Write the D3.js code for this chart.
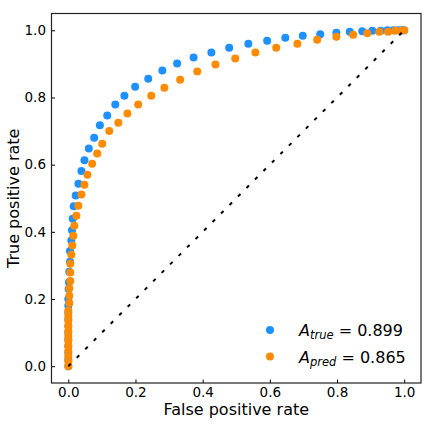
<!DOCTYPE html>
<html>
<head>
<meta charset="utf-8">
<script src="https://cdn.jsdelivr.net/npm/d3@7"></script>
<style>
  body { margin: 0; background: #fff; }
  text { font-family: "DejaVu Sans", sans-serif; fill: #000; }
  .axis path, .axis line { stroke: #000; }
</style>
</head>
<body>
<div id="chart"></div>
<script>
// ROC points
const fprTrue = [0, 0, 0, 0, 0, 0, 0, 0, 0, 0, 0, 0.001, 0.002,
  0.003, 0.005, 0.005, 0.009, 0.011, 0.013, 0.016, 0.022, 0.030, 0.039, 0.048, 0.061, 0.077,
  0.094, 0.116, 0.140, 0.167, 0.199, 0.238, 0.280, 0.324, 0.373, 0.426, 0.479, 0.536, 0.592,
  0.646, 0.698, 0.750, 0.798, 0.838, 0.875, 0.905, 0.930, 0.950, 0.968, 0.982, 0.993, 1.0];
const tprTrue = [0, 0.02, 0.04, 0.06, 0.08, 0.10, 0.12, 0.14, 0.16, 0.18, 0.20, 0.23, 0.25,
  0.281, 0.311, 0.343, 0.374, 0.405, 0.439, 0.476, 0.508, 0.543, 0.581, 0.613, 0.648, 0.680,
  0.717, 0.746, 0.779, 0.805, 0.832, 0.856, 0.880, 0.901, 0.919, 0.934, 0.948, 0.960, 0.969,
  0.978, 0.984, 0.988, 0.993, 0.996, 0.997, 0.999, 0.999, 1.0, 1.0, 1.0, 1.0, 1.0];

const fprPred = [0, 0, 0, 0, 0, 0, 0, 0, 0, 0, 0, 0,
  0.003, 0.003, 0.003, 0.006, 0.006, 0.006, 0.009, 0.012, 0.015, 0.018, 0.024, 0.030, 0.039,
  0.048, 0.057, 0.071, 0.086, 0.101, 0.122, 0.149, 0.176, 0.208, 0.247, 0.286, 0.333, 0.384,
  0.438, 0.497, 0.557, 0.619, 0.682, 0.741, 0.798, 0.848, 0.890, 0.926, 0.952, 0.973, 0.991, 1.0];
const tprPred = [0, 0.015, 0.03, 0.045, 0.06, 0.075, 0.09, 0.105, 0.12, 0.135, 0.15, 0.165,
  0.188, 0.210, 0.232, 0.254, 0.279, 0.305, 0.332, 0.359, 0.388, 0.418, 0.448, 0.478, 0.511,
  0.540, 0.570, 0.603, 0.633, 0.662, 0.700, 0.725, 0.752, 0.779, 0.805, 0.829, 0.853, 0.877,
  0.898, 0.916, 0.934, 0.948, 0.960, 0.972, 0.981, 0.987, 0.991, 0.996, 0.996, 0.999, 0.999, 1.0];

const tickValues = [0, 0.2, 0.4, 0.6, 0.8, 1.0];
const seriesNames = ['true', 'pred'];
const aucValues = ['0.899', '0.865'];
const colors = ['#1e90ff', '#ff8c00'];

const width = 432, height = 432;
const margin = {top: 13.5, right: 11, bottom: 49, left: 51.5};
const innerW = width - margin.left - margin.right;
const innerH = height - margin.top - margin.bottom;

const svg = d3.select('#chart').append('svg')
    .attr('width', width)
    .attr('height', height);

const chart = svg.append('g')
    .attr('transform', `translate(${margin.left},${margin.top})`);

const xScale = d3.scaleLinear().domain([-0.05, 1.05]).range([0, innerW]);
const yScale = d3.scaleLinear().domain([-0.05, 1.05]).range([innerH, 0]);

const xAxis = d3.axisBottom(xScale).tickValues(tickValues)
    .tickFormat(d3.format('.1f')).tickSizeInner(-3.5).tickSizeOuter(0).tickPadding(4.5);
const yAxis = d3.axisLeft(yScale).tickValues(tickValues)
    .tickFormat(d3.format('.1f')).tickSizeInner(-3.5).tickSizeOuter(0).tickPadding(5.5);

const series = [
  {x: fprTrue, y: tprTrue},
  {x: fprPred, y: tprPred}
];

series.forEach((s, i) => {
  chart.append('g').selectAll('circle')
      .data(s.x.map((v, j) => [v, s.y[j]]))
      .join('circle')
      .attr('cx', d => xScale(d[0]))
      .attr('cy', d => yScale(d[1]))
      .attr('r', 4)
      .attr('fill', colors[i]);
});

// chance diagonal
chart.append('line')
    .attr('x1', xScale(0)).attr('y1', yScale(0))
    .attr('x2', xScale(1)).attr('y2', yScale(1))
    .attr('stroke', '#000')
    .attr('stroke-width', 2)
    .attr('stroke-dasharray', '3.5,8.5');

chart.append('g').attr('class', 'axis')
    .attr('transform', `translate(0,${innerH})`)
    .call(xAxis)
    .call(g => g.select('.domain').remove())
    .selectAll('text').style('font-size', '13.5px').style('font-family', '"DejaVu Sans", sans-serif');

chart.append('g').attr('class', 'axis')
    .call(yAxis)
    .call(g => g.select('.domain').remove())
    .selectAll('text').style('font-size', '13.5px').style('font-family', '"DejaVu Sans", sans-serif');

// frame
chart.append('rect')
    .attr('width', innerW).attr('height', innerH)
    .attr('fill', 'none').attr('stroke', '#222').attr('stroke-width', 1.2);

svg.append('text')
    .attr('x', margin.left + innerW / 2)
    .attr('y', 415)
    .attr('text-anchor', 'middle')
    .style('font-size', '16px')
    .text('False positive rate');

svg.append('text')
    .attr('transform', `translate(18.5,${margin.top + innerH / 2}) rotate(-90)`)
    .attr('text-anchor', 'middle')
    .style('font-size', '16px')
    .text('True positive rate');

// legend
const legend = svg.append('g').attr('transform', 'translate(270,330)');
seriesNames.forEach((name, i) => {
  const row = legend.append('g').attr('transform', `translate(0,${i * 26.5})`);
  row.append('circle').attr('r', 4).attr('fill', colors[i]);
  const t = row.append('text').attr('x', 29).attr('y', 6).style('font-size', '16px');
  t.append('tspan').style('font-style', 'italic').text('A');
  t.append('tspan').style('font-style', 'italic').style('font-size', '11.5px')
      .attr('dy', 3).text(name);
  t.append('tspan').attr('dy', -3).text(' = ' + aucValues[i]);
});
</script>
</body>
</html>
